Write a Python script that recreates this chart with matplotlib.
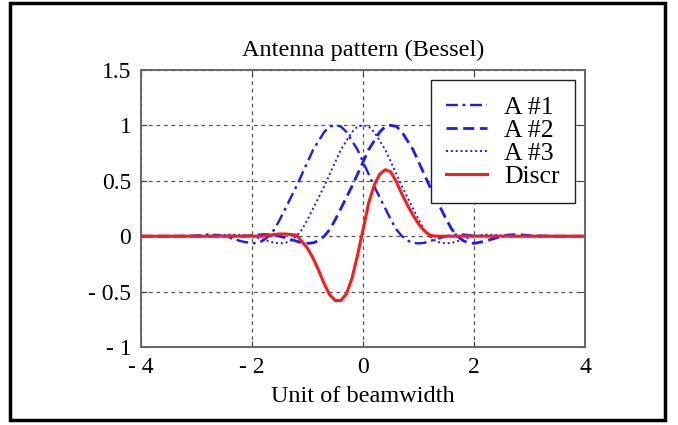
import matplotlib
matplotlib.use("Agg")
import matplotlib.pyplot as plt
from matplotlib.patches import Rectangle

# ---- data ----
x_vals = [-4.0, -3.5, -3.0, -2.8, -2.6, -2.4, -2.2,
          -2.0, -1.9, -1.8, -1.7, -1.6, -1.5, -1.4, -1.3, -1.2, -1.1,
          -1.0, -0.9, -0.8, -0.7, -0.6, -0.5, -0.4, -0.3, -0.2, -0.1,
          0.0, 0.1, 0.2, 0.3, 0.4, 0.5, 0.6, 0.7, 0.8, 0.9,
          1.0, 1.1, 1.2, 1.3, 1.4, 1.5, 1.6, 1.7, 1.8, 1.9,
          2.0, 2.2, 2.4, 2.6, 2.8, 3.0, 3.5, 4.0]

a1_vals = [0.0, 0.0, 0.005, 0.015, 0.01, -0.015, -0.045,
           -0.065, -0.06, -0.04, 0.0, 0.06, 0.15, 0.25, 0.35, 0.45, 0.56,
           0.67, 0.78, 0.86, 0.94, 0.99, 1.0, 0.99, 0.94, 0.86, 0.78,
           0.67, 0.56, 0.45, 0.35, 0.25, 0.15, 0.06, 0.0, -0.04, -0.06,
           -0.065, -0.06, -0.045, -0.03, -0.015, 0.0, 0.01, 0.015, 0.015, 0.01,
           0.005, 0.0, 0.0, 0.0, 0.0, 0.0, 0.0, 0.0]

a2_vals = [0.0, 0.0, 0.0, 0.0, 0.0, 0.0, 0.0,
           0.005, 0.01, 0.015, 0.015, 0.01, 0.0, -0.015, -0.03, -0.045, -0.06,
           -0.065, -0.06, -0.04, 0.0, 0.06, 0.15, 0.25, 0.35, 0.45, 0.56,
           0.67, 0.78, 0.86, 0.94, 0.99, 1.0, 0.99, 0.94, 0.86, 0.78,
           0.67, 0.56, 0.45, 0.35, 0.25, 0.15, 0.06, 0.0, -0.04, -0.06,
           -0.065, -0.045, -0.015, 0.01, 0.015, 0.005, 0.0, 0.0]

a3_vals = [0.0, 0.0, 0.0, 0.0, 0.01, 0.015, 0.01,
           0.0, -0.015, -0.03, -0.045, -0.06, -0.065, -0.06, -0.04, 0.0, 0.06,
           0.15, 0.25, 0.35, 0.45, 0.56, 0.67, 0.78, 0.86, 0.94, 0.99,
           1.0, 0.99, 0.94, 0.86, 0.78, 0.67, 0.56, 0.45, 0.35, 0.25,
           0.15, 0.06, 0.0, -0.04, -0.06, -0.065, -0.06, -0.045, -0.03, -0.015,
           0.0, 0.015, 0.01, 0.0, 0.0, 0.0, 0.0, 0.0]

discr_vals = [0.0, 0.0, 0.0, 0.0, 0.0, 0.0, 0.0,
              0.0, 0.0, 0.0, 0.01, 0.015, 0.02, 0.02, 0.015, 0.01, -0.05,
              -0.11, -0.20, -0.31, -0.43, -0.53, -0.58, -0.58, -0.52, -0.38, -0.17,
              0.06, 0.30, 0.46, 0.56, 0.60, 0.58, 0.49, 0.38, 0.28, 0.19,
              0.11, 0.05, 0.01, 0.0, 0.0, 0.0, 0.0, 0.0, 0.0, 0.0,
              0.0, 0.0, 0.0, 0.0, 0.0, 0.0, 0.0, 0.0]

series_labels = ["A #1", "A #2", "A #3", "Discr"]
x_ticks = [-4, -2, 0, 2, 4]
x_tick_labels = ["- 4", "- 2", "0", "2", "4"]
y_ticks = [-1, -0.5, 0, 0.5, 1, 1.5]
y_tick_labels = ["- 1", "- 0.5", "0", "0.5", "1", "1.5"]
title_text = "Antenna pattern (Bessel)"
xlabel_text = "Unit of beamwidth"

# ---- figure ----
plt.rcParams['font.family'] = ['Liberation Serif', 'DejaVu Serif']
fig = plt.figure(figsize=(6.78, 4.25), dpi=100)
ax = fig.add_axes([0.208, 0.1835, 0.655, 0.652])

blue = '#1a1aff'
ax.plot(x_vals, a1_vals, color=blue, lw=1.7, linestyle=(0, (5, 2, 1.2, 2)), label=series_labels[0])
ax.plot(x_vals, a2_vals, color=blue, lw=2.0, linestyle=(0, (4, 2)), label=series_labels[1])
ax.plot(x_vals, a3_vals, color=blue, lw=1.4, linestyle=(0, (1, 1.5)), label=series_labels[2])
ax.plot(x_vals, discr_vals, color='#ff1a1a', lw=2.2, linestyle='-', label=series_labels[3])

ax.set_xlim(-4, 4)
ax.set_ylim(-1, 1.5)
ax.set_xticks(x_ticks)
ax.set_xticklabels(x_tick_labels)
ax.set_yticks(y_ticks)
ax.set_yticklabels(y_tick_labels)
ax.tick_params(direction='in', top=True, right=True, length=4, width=0.8,
               color='#444444', labelsize=17, pad=7)
ax.grid(True, color='#555555', linestyle=(0, (3, 3)), linewidth=0.9)
for s in ax.spines.values():
    s.set_color('#666666')
    s.set_linewidth(1.4)

ax.set_title(title_text, fontsize=17.5, pad=10)
ax.set_xlabel(xlabel_text, fontsize=17.5, labelpad=6)

leg = ax.legend(loc='upper right', fontsize=18.5, fancybox=False, framealpha=1,
                edgecolor='#222222', handlelength=1.6, borderaxespad=0.4,
                labelspacing=0.0, handletextpad=0.65, borderpad=0.6)
leg.get_frame().set_linewidth(1.0)

fig.patches.append(Rectangle((0.015, 0.012), 0.966, 0.98, transform=fig.transFigure,
                             fill=False, edgecolor='black', linewidth=2.5))

fig.savefig('out.png', dpi=100)
